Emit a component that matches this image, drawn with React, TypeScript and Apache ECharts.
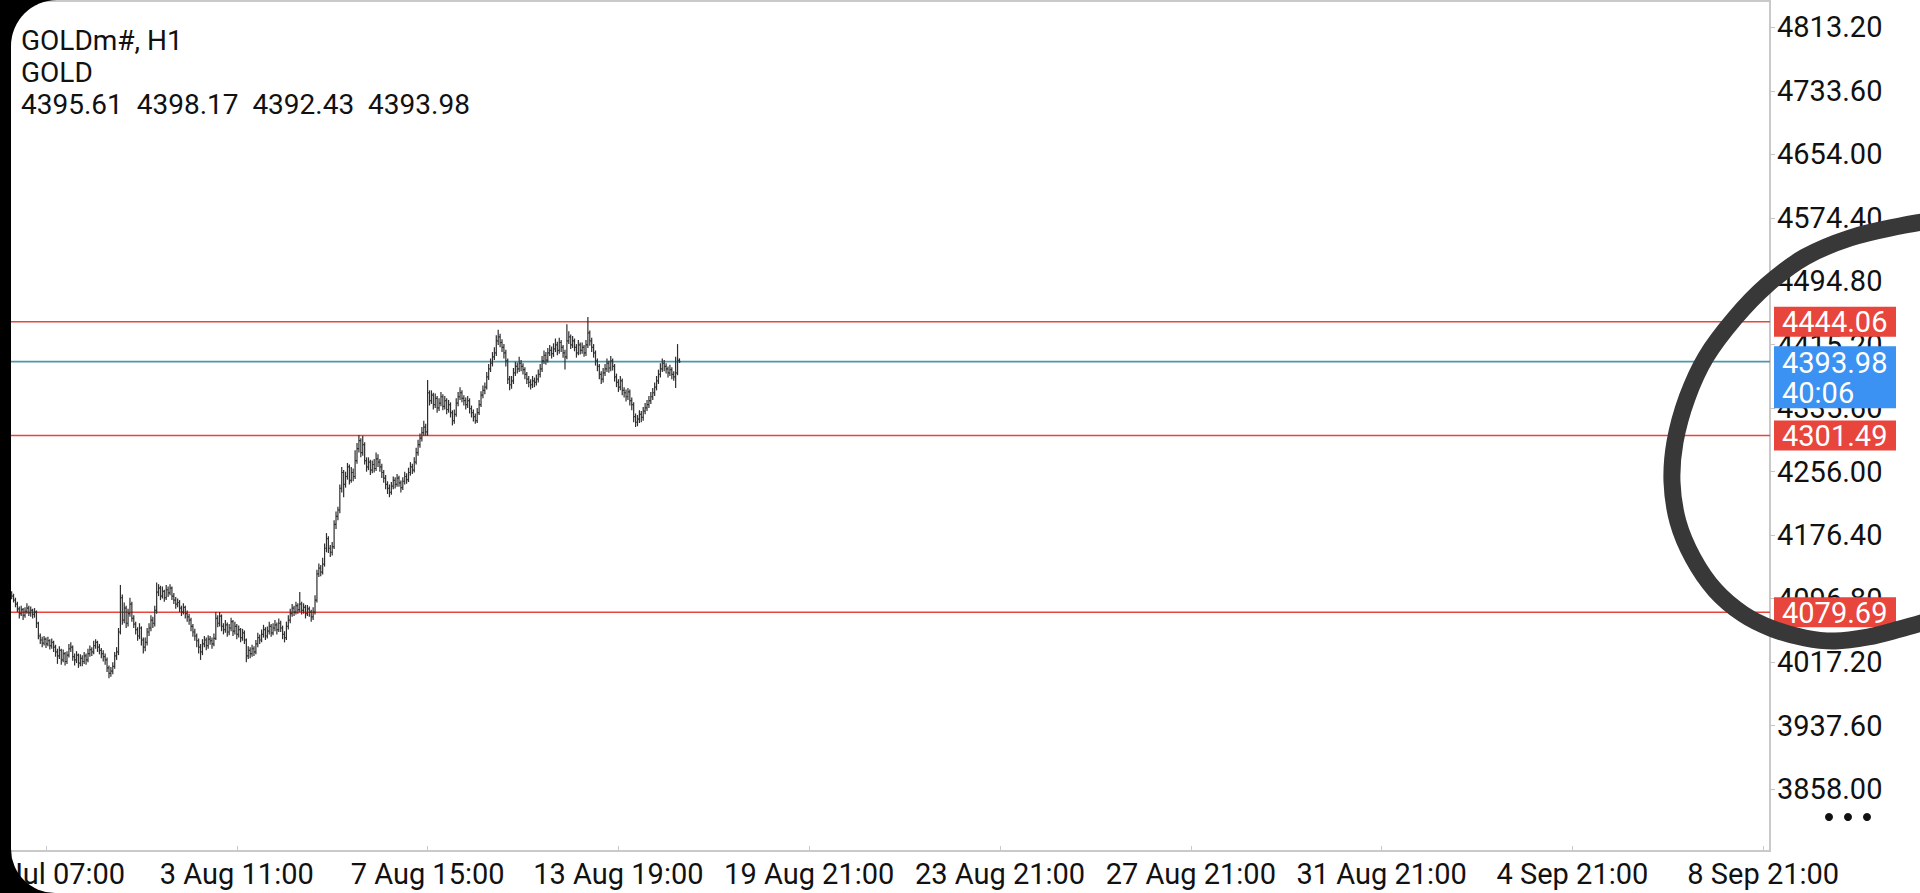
import { useEffect, useRef } from "react";
import * as echarts from "echarts";

// H1 bars, index 0 = first visible bar (left edge of the screen)
const barOpen = [
  4104, 4100, 4095, 4090, 4084, 4078, 4083, 4076, 4081, 4085,
  4079, 4082, 4077, 4080, 4066, 4050, 4045, 4041, 4046, 4040,
  4044, 4038, 4042, 4036, 4030, 4025, 4032, 4020, 4028, 4018,
  4026, 4034, 4036, 4024, 4020, 4026, 4016, 4022, 4018, 4025,
  4020, 4028, 4033, 4030, 4038, 4042, 4036, 4032, 4028, 4024,
  4020, 4010, 4003, 4006, 4012, 4025, 4030, 4055, 4098, 4070,
  4085, 4066, 4078, 4090, 4072, 4065, 4058, 4050, 4060, 4045,
  4036, 4042, 4055, 4060, 4070, 4066, 4082, 4105, 4110, 4100,
  4106, 4098, 4108, 4104, 4110, 4100, 4095, 4090, 4092, 4085,
  4080, 4086, 4078, 4074, 4070, 4062, 4055, 4050, 4044, 4036,
  4030, 4040, 4045, 4038, 4046, 4044, 4040, 4047, 4072, 4066,
  4075, 4062, 4058, 4064, 4055, 4060, 4068, 4056, 4062, 4052,
  4058, 4048, 4054, 4045, 4025, 4032, 4028, 4034, 4030, 4040,
  4048, 4045, 4052, 4058, 4050, 4056, 4062, 4054, 4060, 4064,
  4058, 4066, 4060, 4052, 4048, 4062, 4070, 4078, 4085, 4080,
  4088, 4083, 4090, 4082, 4086, 4078, 4084, 4080, 4074, 4080,
  4095, 4128, 4135, 4130, 4140, 4160, 4172, 4160, 4155, 4162,
  4190, 4200, 4208, 4235, 4255, 4240, 4250, 4262, 4245, 4255,
  4250, 4270, 4285, 4295, 4280, 4290, 4270, 4262, 4268, 4258,
  4265, 4260, 4272, 4268, 4262, 4255, 4248, 4240, 4235, 4230,
  4238, 4245, 4240, 4248, 4242, 4236, 4244, 4250, 4246, 4255,
  4262, 4258, 4268, 4280, 4290, 4298, 4305, 4312, 4306, 4355,
  4345, 4352, 4340, 4348, 4336, 4342, 4350, 4338, 4345, 4334,
  4340, 4330, 4320, 4328, 4342, 4350, 4355, 4348, 4345, 4340,
  4345, 4335, 4330, 4325, 4320, 4330, 4340, 4352, 4358, 4362,
  4375, 4385, 4392, 4400, 4405, 4420, 4425, 4418, 4412, 4405,
  4395, 4372, 4365, 4370, 4380, 4388, 4385, 4392, 4388, 4384,
  4378, 4372, 4368, 4365, 4370, 4368, 4372, 4378, 4385, 4395,
  4402, 4396, 4405, 4408, 4404, 4410, 4415, 4408, 4418, 4412,
  4405, 4400, 4420, 4425, 4415, 4420, 4412, 4405, 4415, 4408,
  4412, 4405, 4415, 4430, 4420, 4412, 4405, 4395, 4388, 4378,
  4372, 4380, 4385, 4392, 4386, 4395, 4388, 4375, 4368, 4362,
  4370, 4358, 4355, 4350, 4356, 4345, 4340, 4325, 4318, 4322,
  4328, 4324, 4332, 4336, 4340, 4345, 4350, 4355, 4362, 4370,
  4378, 4385, 4392, 4388, 4385, 4380, 4384, 4378, 4375, 4380,
  4395.61,
];

const barHigh = [
  4106, 4103, 4098, 4093, 4087, 4088, 4085, 4086, 4091, 4088,
  4087, 4084, 4085, 4082, 4068, 4053, 4049, 4050, 4048, 4049,
  4046, 4047, 4044, 4039, 4034, 4037, 4034, 4033, 4030, 4031,
  4040, 4042, 4038, 4028, 4031, 4028, 4027, 4026, 4030, 4028,
  4034, 4038, 4036, 4044, 4046, 4044, 4040, 4035, 4032, 4028,
  4023, 4013, 4011, 4017, 4030, 4036, 4060, 4114, 4102, 4092,
  4088, 4084, 4098, 4093, 4076, 4068, 4061, 4066, 4062, 4048,
  4048, 4060, 4066, 4076, 4074, 4088, 4117, 4115, 4113, 4112,
  4108, 4114, 4112, 4115, 4112, 4104, 4099, 4097, 4095, 4088,
  4091, 4088, 4082, 4078, 4073, 4065, 4059, 4053, 4047, 4040,
  4046, 4050, 4048, 4051, 4050, 4048, 4053, 4080, 4076, 4080,
  4077, 4066, 4070, 4067, 4065, 4073, 4070, 4068, 4065, 4063,
  4060, 4059, 4057, 4047, 4037, 4036, 4039, 4037, 4045, 4054,
  4052, 4058, 4064, 4061, 4062, 4068, 4065, 4066, 4070, 4067,
  4072, 4069, 4063, 4056, 4068, 4076, 4084, 4090, 4088, 4093,
  4091, 4105, 4093, 4091, 4089, 4089, 4087, 4083, 4086, 4101,
  4133, 4141, 4139, 4148, 4166, 4179, 4175, 4164, 4168, 4195,
  4206, 4212, 4240, 4262, 4258, 4256, 4267, 4265, 4262, 4260,
  4283, 4292, 4302, 4298, 4301, 4293, 4274, 4274, 4271, 4270,
  4272, 4280, 4278, 4272, 4266, 4258, 4252, 4244, 4240, 4243,
  4250, 4249, 4253, 4251, 4245, 4249, 4256, 4254, 4261, 4268,
  4266, 4274, 4286, 4296, 4304, 4312, 4320, 4316, 4371, 4358,
  4358, 4355, 4354, 4351, 4348, 4356, 4353, 4351, 4348, 4346,
  4343, 4333, 4334, 4348, 4356, 4362, 4358, 4352, 4349, 4351,
  4348, 4339, 4334, 4329, 4336, 4346, 4357, 4364, 4368, 4381,
  4391, 4398, 4406, 4412, 4427, 4434, 4429, 4422, 4416, 4409,
  4398, 4376, 4376, 4386, 4394, 4393, 4400, 4396, 4392, 4387,
  4381, 4376, 4372, 4376, 4374, 4378, 4384, 4391, 4401, 4408,
  4406, 4411, 4415, 4413, 4417, 4423, 4419, 4424, 4421, 4415,
  4409, 4441, 4432, 4428, 4426, 4423, 4416, 4421, 4418, 4418,
  4415, 4421, 4450, 4433, 4424, 4416, 4408, 4398, 4391, 4382,
  4386, 4391, 4398, 4395, 4401, 4398, 4391, 4379, 4372, 4376,
  4373, 4362, 4359, 4361, 4359, 4349, 4343, 4329, 4327, 4333,
  4332, 4337, 4342, 4346, 4351, 4356, 4361, 4368, 4376, 4384,
  4392, 4398, 4396, 4392, 4388, 4390, 4387, 4382, 4400, 4416,
  4398.17,
];

const barLow = [
  4096, 4092, 4086, 4080, 4072, 4075, 4070, 4073, 4078, 4075,
  4074, 4072, 4073, 4060, 4046, 4040, 4036, 4038, 4035, 4037,
  4033, 4034, 4030, 4024, 4015, 4021, 4014, 4017, 4013, 4015,
  4023, 4030, 4019, 4013, 4016, 4010, 4012, 4012, 4015, 4014,
  4017, 4024, 4025, 4027, 4034, 4030, 4027, 4022, 4018, 4014,
  4005, 3997, 3999, 4002, 4009, 4020, 4026, 4052, 4064, 4066,
  4060, 4062, 4074, 4068, 4060, 4052, 4044, 4046, 4038, 4028,
  4031, 4038, 4050, 4056, 4060, 4062, 4078, 4100, 4095, 4097,
  4093, 4095, 4099, 4101, 4095, 4090, 4084, 4086, 4080, 4075,
  4077, 4072, 4068, 4064, 4056, 4049, 4044, 4036, 4028, 4020,
  4026, 4036, 4032, 4034, 4039, 4034, 4037, 4045, 4061, 4062,
  4056, 4052, 4054, 4049, 4051, 4056, 4050, 4052, 4046, 4048,
  4042, 4044, 4040, 4017, 4021, 4022, 4024, 4025, 4027, 4036,
  4040, 4042, 4048, 4045, 4047, 4052, 4049, 4051, 4056, 4052,
  4055, 4055, 4046, 4042, 4045, 4058, 4066, 4074, 4075, 4077,
  4078, 4080, 4077, 4078, 4072, 4075, 4074, 4068, 4070, 4077,
  4092, 4124, 4125, 4127, 4137, 4155, 4154, 4149, 4151, 4159,
  4184, 4195, 4204, 4230, 4224, 4236, 4246, 4240, 4242, 4244,
  4247, 4266, 4280, 4274, 4276, 4265, 4256, 4258, 4252, 4254,
  4255, 4257, 4262, 4256, 4248, 4242, 4234, 4228, 4224, 4227,
  4234, 4235, 4237, 4237, 4230, 4233, 4240, 4241, 4243, 4251,
  4253, 4255, 4265, 4276, 4286, 4294, 4301, 4301, 4301, 4339,
  4341, 4334, 4336, 4330, 4332, 4338, 4333, 4334, 4328, 4330,
  4324, 4314, 4316, 4325, 4338, 4346, 4343, 4339, 4334, 4336,
  4329, 4324, 4319, 4316, 4317, 4327, 4337, 4348, 4353, 4359,
  4371, 4381, 4388, 4396, 4401, 4415, 4412, 4406, 4398, 4388,
  4366, 4358, 4360, 4366, 4376, 4379, 4381, 4382, 4378, 4372,
  4366, 4362, 4359, 4361, 4362, 4364, 4368, 4374, 4381, 4391,
  4390, 4393, 4401, 4398, 4400, 4406, 4402, 4404, 4406, 4399,
  4384, 4397, 4416, 4410, 4411, 4407, 4399, 4402, 4403, 4404,
  4400, 4401, 4411, 4414, 4406, 4399, 4389, 4382, 4372, 4366,
  4368, 4376, 4381, 4380, 4382, 4383, 4369, 4362, 4356, 4358,
  4352, 4349, 4344, 4346, 4339, 4333, 4318, 4312, 4313, 4317,
  4318, 4320, 4328, 4332, 4336, 4341, 4346, 4351, 4358, 4366,
  4374, 4381, 4382, 4379, 4374, 4376, 4372, 4370, 4361, 4377,
  4392.43,
];

const barClose = [
  4100, 4095, 4090, 4084, 4078, 4083, 4076, 4081, 4085, 4079,
  4082, 4077, 4080, 4066, 4050, 4045, 4041, 4046, 4040, 4044,
  4038, 4042, 4036, 4030, 4025, 4032, 4020, 4028, 4018, 4026,
  4034, 4036, 4024, 4020, 4026, 4016, 4022, 4018, 4025, 4020,
  4028, 4033, 4030, 4038, 4042, 4036, 4032, 4028, 4024, 4020,
  4010, 4003, 4006, 4012, 4025, 4030, 4055, 4098, 4070, 4085,
  4066, 4078, 4090, 4072, 4065, 4058, 4050, 4060, 4045, 4036,
  4042, 4055, 4060, 4070, 4066, 4082, 4105, 4110, 4100, 4106,
  4098, 4108, 4104, 4110, 4100, 4095, 4090, 4092, 4085, 4080,
  4086, 4078, 4074, 4070, 4062, 4055, 4050, 4044, 4036, 4030,
  4040, 4045, 4038, 4046, 4044, 4040, 4047, 4072, 4066, 4075,
  4062, 4058, 4064, 4055, 4060, 4068, 4056, 4062, 4052, 4058,
  4048, 4054, 4045, 4025, 4032, 4028, 4034, 4030, 4040, 4048,
  4045, 4052, 4058, 4050, 4056, 4062, 4054, 4060, 4064, 4058,
  4066, 4060, 4052, 4048, 4062, 4070, 4078, 4085, 4080, 4088,
  4083, 4090, 4082, 4086, 4078, 4084, 4080, 4074, 4080, 4095,
  4128, 4135, 4130, 4140, 4160, 4172, 4160, 4155, 4162, 4190,
  4200, 4208, 4235, 4255, 4240, 4250, 4262, 4245, 4255, 4250,
  4270, 4285, 4295, 4280, 4290, 4270, 4262, 4268, 4258, 4265,
  4260, 4272, 4268, 4262, 4255, 4248, 4240, 4235, 4230, 4238,
  4245, 4240, 4248, 4242, 4236, 4244, 4250, 4246, 4255, 4262,
  4258, 4268, 4280, 4290, 4298, 4305, 4312, 4306, 4355, 4345,
  4352, 4340, 4348, 4336, 4342, 4350, 4338, 4345, 4334, 4340,
  4330, 4320, 4328, 4342, 4350, 4355, 4348, 4345, 4340, 4345,
  4335, 4330, 4325, 4320, 4330, 4340, 4352, 4358, 4362, 4375,
  4385, 4392, 4400, 4405, 4420, 4425, 4418, 4412, 4405, 4395,
  4372, 4365, 4370, 4380, 4388, 4385, 4392, 4388, 4384, 4378,
  4372, 4368, 4365, 4370, 4368, 4372, 4378, 4385, 4395, 4402,
  4396, 4405, 4408, 4404, 4410, 4415, 4408, 4418, 4412, 4405,
  4400, 4420, 4425, 4415, 4420, 4412, 4405, 4415, 4408, 4412,
  4405, 4415, 4430, 4420, 4412, 4405, 4395, 4388, 4378, 4372,
  4380, 4385, 4392, 4386, 4395, 4388, 4375, 4368, 4362, 4370,
  4358, 4355, 4350, 4356, 4345, 4340, 4325, 4318, 4322, 4328,
  4324, 4332, 4336, 4340, 4345, 4350, 4355, 4362, 4370, 4378,
  4385, 4392, 4388, 4385, 4380, 4384, 4378, 4375, 4380, 4395.61,
  4393.98,
];

// horizontal levels drawn by the user (red) and the bid countdown
const levelPrices = [4444.06, 4301.49, 4079.69];
const barCountdown = "40:06";

const yTicks = [
  3858.0, 3937.6, 4017.2, 4096.8, 4176.4, 4256.0, 4335.6,
  4415.2, 4494.8, 4574.4, 4654.0, 4733.6, 4813.2,
];
const xTickIndex = [18, 118, 218, 318, 418, 518, 618, 718, 818, 918];
const xTickLabels = [
  "30 Jul 07:00", "3 Aug 11:00", "7 Aug 15:00", "13 Aug 19:00", "19 Aug 21:00",
  "23 Aug 21:00", "27 Aug 21:00", "31 Aug 21:00", "4 Sep 21:00", "8 Sep 21:00",
];

const FONT = "Roboto, 'Noto Sans', sans-serif";
const X_MIN = -6.11;
const X_MAX = 921.56;
const Y_MIN = 3780.4;
const Y_MAX = 4846.2;
const RED = "#e8453c";
const BLUE = "#3b92f2";

const renderBar = (_params: any, api: any) => {
  const i = api.value(0);
  const [x, yHigh] = api.coord([i, api.value(2)]);
  const yLow = api.coord([i, api.value(3)])[1];
  const yOpen = api.coord([i, api.value(1)])[1];
  const yClose = api.coord([i, api.value(4)])[1];
  const style = { stroke: "#2e2e2e", lineWidth: 1.2 };
  return {
    type: "group",
    children: [
      { type: "line", shape: { x1: x, y1: yHigh, x2: x, y2: yLow }, style },
      { type: "line", shape: { x1: x - 1, y1: yOpen, x2: x, y2: yOpen }, style },
      { type: "line", shape: { x1: x, y1: yClose, x2: x + 1, y2: yClose }, style },
    ],
  };
};

export default function App() {
  const chartRef = useRef<HTMLDivElement>(null);

  useEffect(() => {
    if (!chartRef.current) return;
    const chart = echarts.init(chartRef.current, null, { renderer: "svg" });

    const bars = barClose.map((c, i) => [i, barOpen[i], barHigh[i], barLow[i], c]);
    const last = bars.length - 1;
    const bid = barClose[last];
    const header = [barOpen[last], barHigh[last], barLow[last], barClose[last]]
      .map((v) => v.toFixed(2))
      .join("  ");

    chart.setOption({
      animation: false,
      title: {
        text: `GOLDm#, H1\nGOLD\n${header}`,
        left: 21,
        top: 24,
        padding: 0,
        textStyle: {
          fontFamily: FONT,
          fontSize: 28,
          fontWeight: "normal",
          lineHeight: 32,
          color: "#111",
        },
      },
      grid: {
        left: 0,
        right: 150,
        top: 1,
        bottom: 42,
        show: true,
        borderColor: "#c9c9c9",
        borderWidth: 2,
        outerBoundsMode: "none",
        containLabel: false,
      },
      xAxis: {
        type: "value",
        min: X_MIN,
        max: X_MAX,
        splitLine: { show: false },
        axisLine: { show: false, onZero: false },
        axisTick: {
          show: true,
          inside: true,
          length: 5,
          customValues: xTickIndex,
          lineStyle: { color: "#c9c9c9" },
        },
        axisLabel: {
          customValues: xTickIndex,
          formatter: (v: number) => xTickLabels[xTickIndex.indexOf(v)] ?? "",
          fontFamily: FONT,
          fontSize: 29,
          color: "#111",
          margin: 8,
        },
      },
      yAxis: {
        type: "value",
        position: "right",
        min: Y_MIN,
        max: Y_MAX,
        splitLine: { show: false },
        axisLine: { show: false, onZero: false },
        axisTick: {
          show: true,
          length: 5,
          customValues: yTicks,
          lineStyle: { color: "#c4c4c4" },
        },
        axisLabel: {
          customValues: yTicks,
          formatter: (v: number) => v.toFixed(2),
          fontFamily: FONT,
          fontSize: 29,
          color: "#111",
          margin: 7,
        },
      },
      series: [
        ...levelPrices.map((p) => ({
          type: "line",
          data: [[X_MIN, p], [X_MAX, p]],
          symbol: "none",
          silent: true,
          lineStyle: { color: RED, width: 1.5 },
          z: 2,
        })),
        {
          type: "line",
          data: [[X_MIN, bid], [X_MAX, bid]],
          symbol: "none",
          silent: true,
          lineStyle: { color: "#4a97ad", width: 1.8 },
          z: 2,
        },
        {
          type: "custom",
          data: bars,
          encode: { x: 0, y: [1, 2, 3, 4] },
          renderItem: renderBar,
          silent: true,
          z: 3,
        },
      ],
    });

    const yOf = (p: number) => chart.convertToPixel({ yAxisIndex: 0 }, p) as number;
    const tagText = (text: string, y: number) => ({
      type: "text",
      x: 8,
      y,
      z: 101,
      style: {
        text,
        fill: "#fff",
        font: `29px ${FONT}`,
        align: "left",
        verticalAlign: "middle",
      },
    });
    const tagBox = (height: number, fill: string) => ({
      type: "rect",
      z: 100,
      shape: { x: 0, y: 0, width: 122, height },
      style: { fill },
    });

    const redTags = levelPrices.map((p) => ({
      type: "group",
      x: 1774,
      y: yOf(p) - 15,
      children: [tagBox(30, RED), tagText(p.toFixed(2), 15.5)],
    }));

    const bidTag = {
      type: "group",
      x: 1774,
      y: yOf(bid) - 15.5,
      children: [tagBox(62, BLUE), tagText(bid.toFixed(2), 16.5), tagText(barCountdown, 46.5)],
    };

    // hand drawn ring around the price scale
    const ring = {
      type: "polyline",
      z: 120,
      shape: {
        smooth: 0.35,
        points: [
          [1935, 220], [1900, 226], [1850, 238], [1805, 257], [1767, 285],
          [1735, 318], [1706, 357], [1687, 398], [1675, 442], [1672, 482],
          [1678, 522], [1693, 558], [1715, 590], [1743, 614], [1773, 629],
          [1805, 638], [1835, 641], [1868, 637], [1900, 629], [1935, 619],
        ],
      },
      style: { stroke: "#383838", lineWidth: 17, fill: null, lineCap: "round", lineJoin: "round" },
    };

    const dots = [1829, 1848, 1867].map((cx) => ({
      type: "circle",
      z: 100,
      shape: { cx, cy: 817, r: 4 },
      style: { fill: "#111" },
    }));

    chart.setOption({ graphic: [...redTags, bidTag, ring, ...dots] });

    return () => chart.dispose();
  }, []);

  return (
    <div style={{ position: "fixed", inset: 0, overflow: "hidden", background: "#fff" }}>
      <div ref={chartRef} style={{ position: "absolute", left: 0, top: 0, width: "100%", height: "100%" }} />
      {/* phone screen edge */}
      <div
        style={{
          position: "absolute",
          left: 11,
          top: 0,
          width: 3000,
          height: "100%",
          borderRadius: "46px 0 0 44px",
          boxShadow: "0 0 0 80px #000",
          pointerEvents: "none",
        }}
      />
    </div>
  );
}
